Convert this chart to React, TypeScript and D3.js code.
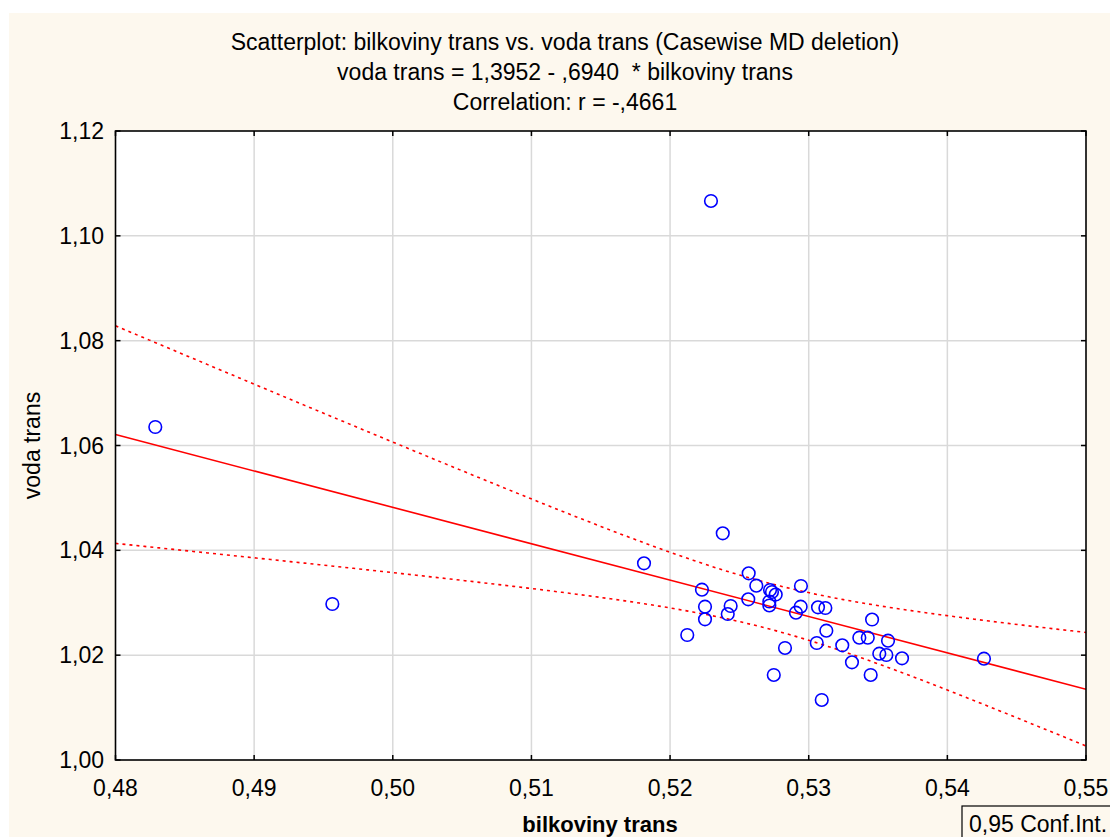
import React from "react";
import * as d3 from "d3";

// Observations: bilkoviny trans (x) and voda trans (y)
const bilkoviny: number[] = [
  0.52295, 0.48287, 0.49564, 0.51812, 0.5238, 0.52567, 0.5223, 0.52252, 0.52252, 0.52437,
  0.52416, 0.52124, 0.52564, 0.52622, 0.52721, 0.52735, 0.52762, 0.52716, 0.52716, 0.52944,
  0.52942, 0.52908, 0.53067, 0.5312, 0.52829, 0.52748, 0.53127, 0.53058, 0.53094, 0.53242,
  0.53312, 0.53365, 0.53426, 0.53457, 0.53572, 0.53509, 0.5356, 0.53673, 0.53447, 0.54264,
];
const voda: number[] = [
  1.10665, 1.06353, 1.02976, 1.03753, 1.04325, 1.03562, 1.03249, 1.02925, 1.02684, 1.02938,
  1.02785, 1.02385, 1.03066, 1.03325, 1.03243, 1.03205, 1.03157, 1.03024, 1.02948, 1.0332,
  1.02925, 1.0281, 1.02913, 1.029, 1.02137, 1.01622, 1.02467, 1.02232, 1.01145, 1.02188,
  1.01864, 1.02333, 1.02333, 1.0268, 1.02276, 1.02028, 1.02003, 1.0194, 1.01622, 1.01933,
];

// Regression coefficients as reported
const intercept = 1.3952;
const slope = -0.694;

const xTicks: number[] = [0.48, 0.49, 0.5, 0.51, 0.52, 0.53, 0.54, 0.55];
const yTicks: number[] = [1.0, 1.02, 1.04, 1.06, 1.08, 1.1, 1.12];

const titleLines: string[] = [
  "Scatterplot: bilkoviny trans vs. voda trans (Casewise MD deletion)",
  "voda trans = 1,3952 - ,6940  * bilkoviny trans",
  "Correlation: r = -,4661",
];

const W = 1110;
const H = 837;
const plot = { left: 115.5, right: 1086, top: 131, bottom: 760 };
const FONT = "'Liberation Sans', Arial, sans-serif";
const FS = 23;

const fmt = (v: number) => d3.format(".2f")(v).replace(".", ",");

export default function App() {
  const x = d3.scaleLinear().domain([0.48, 0.55]).range([plot.left, plot.right]);
  const y = d3.scaleLinear().domain([1.0, 1.12]).range([plot.bottom, plot.top]);

  // 95% confidence band of the mean prediction
  const n = bilkoviny.length;
  const xbar = d3.mean(bilkoviny) as number;
  const sxx = d3.sum(bilkoviny, (v) => (v - xbar) ** 2);
  const sse = d3.sum(bilkoviny, (v, i) => (voda[i] - (intercept + slope * v)) ** 2);
  const s = Math.sqrt(sse / (n - 2));
  const t = 2.024;
  const grid = d3.range(0, 201).map((i) => 0.48 + (0.07 * i) / 200);
  const half = (xv: number) => t * s * Math.sqrt(1 / n + (xv - xbar) ** 2 / sxx);
  const fit = (xv: number) => intercept + slope * xv;

  const line = d3
    .line<number[]>()
    .x((d) => x(d[0]))
    .y((d) => y(d[1]));

  const upper = line(grid.map((g) => [g, fit(g) + half(g)])) as string;
  const lower = line(grid.map((g) => [g, fit(g) - half(g)])) as string;
  const reg = line([
    [0.48, fit(0.48)],
    [0.55, fit(0.55)],
  ]) as string;

  return (
    <svg
      width={W}
      height={H}
      style={{ position: "absolute", left: 0, top: 0, background: "#ffffff" }}
      fontFamily={FONT}
    >
      <defs>
        <clipPath id="plotClip">
          <rect x={plot.left} y={plot.top} width={plot.right - plot.left} height={plot.bottom - plot.top} />
        </clipPath>
      </defs>
      <rect x={9} y={13} width={W - 9} height={H - 13} fill="#fdf8ee" />
      <rect
        x={plot.left}
        y={plot.top}
        width={plot.right - plot.left}
        height={plot.bottom - plot.top}
        fill="#ffffff"
      />

      {/* grid */}
      {xTicks.slice(1, -1).map((v) => (
        <line key={"gx" + v} x1={x(v)} x2={x(v)} y1={plot.top} y2={plot.bottom} stroke="#d9d9d9" strokeWidth={1.5} />
      ))}
      {yTicks.slice(1, -1).map((v) => (
        <line key={"gy" + v} x1={plot.left} x2={plot.right} y1={y(v)} y2={y(v)} stroke="#d9d9d9" strokeWidth={1.5} />
      ))}

      <g clipPath="url(#plotClip)">
        <path d={upper} fill="none" stroke="#ff0000" strokeWidth={1.6} strokeDasharray="3,4" />
        <path d={lower} fill="none" stroke="#ff0000" strokeWidth={1.6} strokeDasharray="3,4" />
        <path d={reg} fill="none" stroke="#ff0000" strokeWidth={1.6} />
      </g>

      {/* points */}
      {bilkoviny.map((v, i) => (
        <circle key={"p" + i} cx={x(v)} cy={y(voda[i])} r={6.3} fill="none" stroke="#0000ff" strokeWidth={1.6} />
      ))}

      {/* frame and inward ticks */}
      <rect
        x={plot.left}
        y={plot.top}
        width={plot.right - plot.left}
        height={plot.bottom - plot.top}
        fill="none"
        stroke="#000"
        strokeWidth={1.6}
      />
      {xTicks.map((v) => (
        <g key={"tx" + v}>
          <line x1={x(v)} x2={x(v)} y1={plot.bottom} y2={plot.bottom - 5} stroke="#000" strokeWidth={1.5} />
          <line x1={x(v)} x2={x(v)} y1={plot.top} y2={plot.top + 5} stroke="#000" strokeWidth={1.5} />
          <text x={x(v)} y={796} textAnchor="middle" fontSize={FS} fill="#000">
            {fmt(v)}
          </text>
        </g>
      ))}
      {yTicks.map((v) => (
        <g key={"ty" + v}>
          <line x1={plot.left} x2={plot.left + 5} y1={y(v)} y2={y(v)} stroke="#000" strokeWidth={1.5} />
          <line x1={plot.right} x2={plot.right - 5} y1={y(v)} y2={y(v)} stroke="#000" strokeWidth={1.5} />
          <text x={104} y={y(v) + 8} textAnchor="end" fontSize={FS} fill="#000">
            {fmt(v)}
          </text>
        </g>
      ))}

      {/* titles */}
      {titleLines.map((t2, i) => (
        <text key={"t" + i} x={565} y={50 + i * 30} textAnchor="middle" fontSize={FS} fill="#000" xmlSpace="preserve">
          {t2}
        </text>
      ))}
      <text x={600} y={832} textAnchor="middle" fontSize={22} fontWeight="bold" fill="#000">
        bilkoviny trans
      </text>
      <text
        transform={`translate(40, ${(plot.top + plot.bottom) / 2}) rotate(-90)`}
        textAnchor="middle"
        fontSize={FS}
        fill="#000"
      >
        voda trans
      </text>

      {/* legend box */}
      <rect x={962} y={806} width={160} height={40} fill="none" stroke="#000" strokeWidth={1.2} />
      <text x={969} y={832} fontSize={FS} fill="#000">
        0,95 Conf.Int.
      </text>
    </svg>
  );
}
